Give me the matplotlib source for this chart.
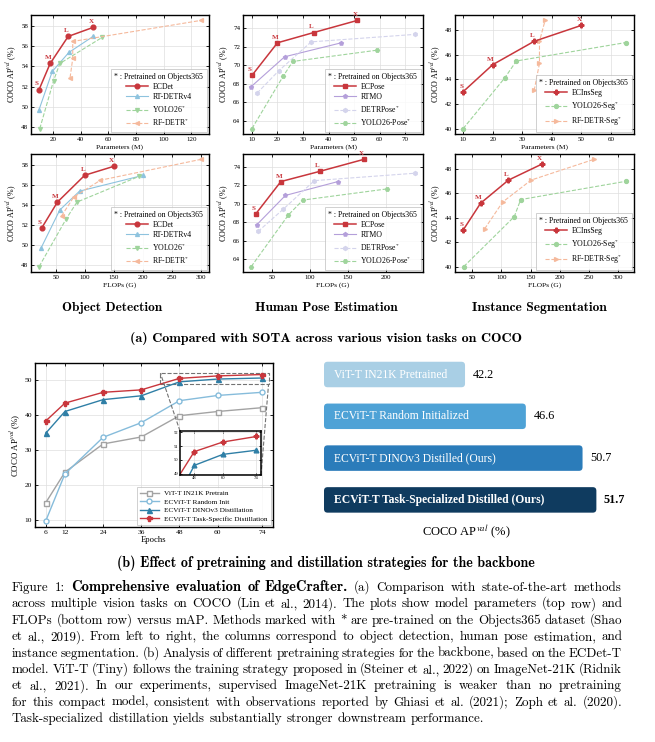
import numpy as np
import matplotlib
matplotlib.use('Agg')
import matplotlib.pyplot as plt
from matplotlib.patches import FancyBboxPatch
from mpl_toolkits.axes_grid1.inset_locator import mark_inset

plt.rcParams['font.family'] = ['Liberation Serif', 'DejaVu Serif']
plt.rcParams['mathtext.fontset'] = 'stix'

# %%
# Data
# --- object detection ---
od_names = ['ECDet', 'RT-DETRv4', 'YOLO26$^{*}$', 'RF-DETR$^{*}$']
od_params = [[10, 18, 31, 49], [10, 19.5, 31.5, 49], [10.5, 20.5, 25, 55.5], [32.4, 34.3, 34.3, 126.9]]
od_flops = [[26, 53, 100, 150], [25, 57, 91, 201], [21.4, 68, 86.6, 194], [60, 81, 127, 300]]
od_ap = [[51.7, 54.3, 57.0, 57.9], [49.7, 53.5, 55.4, 57.0], [47.8, 52.6, 54.3, 56.9], [52.9, 54.8, 56.5, 58.6]]

# --- human pose estimation ---
pose_names = ['ECPose', 'RTMO', 'DETRPose$^{*}$', 'YOLO26-Pose$^{*}$']
pose_params = [[10, 20, 34.2, 51.3], [9.7, 22.8, 45], [12, 20.5, 33.2, 73.8], [10, 22.2, 26, 58.8]]
pose_flops = [[29, 62, 113, 171], [30, 68, 137], [32, 65, 106, 238], [23, 72, 91, 201]]
pose_ap = [[68.9, 72.4, 73.5, 74.8], [67.7, 70.9, 72.4], [67.0, 69.4, 72.5, 73.3], [63.2, 68.8, 70.4, 71.6]]

# --- instance segmentation ---
seg_names = ['ECInsSeg', 'YOLO26-Seg$^{*}$', 'RF-DETR-Seg$^{*}$']
seg_params = [[10, 20, 34, 50], [10, 24, 28, 65], [34, 35.8, 35.8, 37.7]]
seg_flops = [[34, 64, 112, 169], [35, 122, 133, 314], [71, 102, 151, 259]]
seg_ap = [[43.0, 45.2, 47.1, 48.4], [40.0, 44.1, 45.5, 47.0], [43.1, 45.3, 47.1, 48.8]]

sizes = ['S', 'M', 'L', 'X']

# --- backbone pretraining curves ---
epochs = [6, 12, 24, 36, 48, 60, 74]
curve_names = ['ViT-T IN21K Pretrain', 'ECViT-T Random Init',
               'ECViT-T DINOv3 Distillation', 'ECViT-T Task-Specific Distillation']
curve_ap = [[15.0, 23.7, 31.8, 33.8, 39.9, 41.1, 42.2],
            [9.8, 23.2, 33.7, 37.9, 44.2, 45.7, 46.6],
            [34.9, 41.1, 44.5, 45.6, 49.6, 50.4, 50.7],
            [38.4, 43.5, 46.6, 47.3, 50.6, 51.3, 51.7]]

# --- final bars ---
bar_labels = ['ViT-T IN21K Pretrained', 'ECViT-T Random Initialized',
              'ECViT-T DINOv3 Distilled (Ours)', 'ECViT-T Task-Specialized Distilled (Ours)']
bar_values = [42.2, 46.6, 50.7, 51.7]

# %%
RED = '#c8363c'
BLUE_L = '#8ec3de'
GREEN = '#9fd49c'
ORANGE = '#f5b99c'
PURPLE = '#b49fda'
LAV = '#d4d4ec'

W, H = 655, 742
fig = plt.figure(figsize=(W / 100, H / 100), dpi=100)
renderer = fig.canvas.get_renderer()


def box(x0, y0, x1, y1):
    # axes placed in pixel coordinates of the page
    return fig.add_axes([x0 / W, 1 - y1 / H, (x1 - x0) / W, (y1 - y0) / H])


def style(ax, fs=5.0):
    ax.grid(True, color='#dedede', lw=0.5)
    ax.set_axisbelow(True)
    ax.tick_params(direction='in', top=True, right=True, length=2, width=0.6,
                   labelsize=fs, pad=2)
    for s in ax.spines.values():
        s.set_linewidth(1.0)


def panel(ax, names, xs, ys, styles, xlabel):
    style(ax)
    for i, (name, x, y, st) in enumerate(zip(names, xs, ys, styles)):
        color, marker, main = st
        solid = main or name in ('RTMO', 'RT-DETRv4')
        ax.plot(x, y, color=color, marker=marker, ls='-' if solid else '--',
                lw=1.1 if main else 0.8, ms=3.4 if main else 2.8, label=name, zorder=3 if main else 2)
        if main:
            for xx, yy, t in zip(x, y, sizes):
                ax.annotate(t, (xx, yy), xytext=(-1.5, 2.2), textcoords='offset points',
                            ha='center', va='bottom', color=color, fontsize=5, fontweight='bold')
    ax.set_xlabel(xlabel, fontsize=5.4, labelpad=1.5)
    ax.set_ylabel('COCO AP$^{val}$ (%)', fontsize=5.8, labelpad=2)
    leg = ax.legend(title='* : Pretrained on Objects365', loc='lower right', fontsize=5.6,
                    title_fontsize=5.6, fancybox=False, edgecolor='#bbbbbb',
                    handlelength=2.8, borderaxespad=0.3, borderpad=0.45, labelspacing=0.28,
                    handletextpad=0.6)
    leg.get_frame().set_linewidth(0.6)


od_styles = [(RED, 'o', True), (BLUE_L, '^', False), (GREEN, 'v', False), (ORANGE, '<', False)]
pose_styles = [(RED, 's', True), (PURPLE, 'p', False), (LAV, 'h', False), (GREEN, 'H', False)]
seg_styles = [(RED, 'P', True), (GREEN, 'o', False), (ORANGE, '>', False)]

cols = [(31, 209), (243, 423), (455, 634)]
rows = [(15, 134), (154, 272)]
panel(box(cols[0][0], rows[0][0], cols[0][1], rows[0][1]), od_names, od_params, od_ap, od_styles, 'Parameters (M)')
panel(box(cols[1][0], rows[0][0], cols[1][1], rows[0][1]), pose_names, pose_params, pose_ap, pose_styles, 'Parameters (M)')
panel(box(cols[2][0], rows[0][0], cols[2][1], rows[0][1]), seg_names, seg_params, seg_ap, seg_styles, 'Parameters (M)')
panel(box(cols[0][0], rows[1][0], cols[0][1], rows[1][1]), od_names, od_flops, od_ap, od_styles, 'FLOPs (G)')
panel(box(cols[1][0], rows[1][0], cols[1][1], rows[1][1]), pose_names, pose_flops, pose_ap, pose_styles, 'FLOPs (G)')
panel(box(cols[2][0], rows[1][0], cols[2][1], rows[1][1]), seg_names, seg_flops, seg_ap, seg_styles, 'FLOPs (G)')

# %%
# (b) left: training curves with zoomed inset
curve_styles = [('#a3a3a3', 's', 'white'), ('#86bcdb', 'o', 'white'),
                ('#2f7fa6', '^', '#2f7fa6'), (RED, 'P', RED)]
ax = box(35, 363, 273, 527)
style(ax, fs=5.4)
for name, y, (c, m, fc) in zip(curve_names, curve_ap, curve_styles):
    ax.plot(epochs, y, color=c, marker=m, mfc=fc, mec=c, ms=3.6, lw=1.0, label=name)
ax.set_xticks(epochs)
ax.set_ylim(8, 55)
ax.set_xlabel('Epochs', fontsize=6.2, labelpad=1)
ax.set_ylabel('COCO AP$^{val}$ (%)', fontsize=6.4, labelpad=2)
leg = ax.legend(loc='lower right', fontsize=5.2, fancybox=False, edgecolor='#bbbbbb',
                handlelength=2.6, borderaxespad=0.3, labelspacing=0.35)
leg.get_frame().set_linewidth(0.6)

axins = box(180, 431, 261, 475)
style(axins, fs=3.3)
axins.tick_params(pad=1, length=1.5)
for y, (c, m, fc) in list(zip(curve_ap, curve_styles))[2:]:
    axins.plot(epochs, y, color=c, marker=m, mfc=fc, mec=c, ms=3.4, lw=1.0)
axins.set_xlim(42, 76)
axins.set_ylim(48.9, 52.1)
axins.set_xticks([48, 60, 74])
axins.set_yticks([49, 50, 51, 52])
for s in axins.spines.values():
    s.set_linewidth(1.1)
mark_inset(ax, axins, loc1=2, loc2=4, fc='none', ec='0.45', ls='--', lw=0.8)

# (b) right: rounded bars
bar_colors = ['#a9cfe5', '#4ea2d6', '#2b7cba', '#0f3b5f']
bx0, by0, bx1, by1 = 324, 353.6, 642, 520.8
axb = box(bx0, by0, bx1, by1)
xmin, xmax = 32, 55
axb.set_xlim(xmin, xmax)
axb.set_ylim(3.5, -0.5)
axb.axis('off')
asp = (4 / (by1 - by0)) / ((xmax - xmin) / (bx1 - bx0))
for i, (lab, v, c) in enumerate(zip(bar_labels, bar_values, bar_colors)):
    bold = i == len(bar_values) - 1
    axb.add_patch(FancyBboxPatch((xmin, i - 0.305), v - xmin, 0.61,
                                 boxstyle='round,pad=0,rounding_size=0.26',
                                 mutation_aspect=asp, fc=c, ec='none'))
    axb.text(xmin + 0.72, i, lab, color='white', va='center', ha='left', fontsize=8.4,
             fontweight='bold' if bold else 'normal')
    axb.text(v + 0.55, i, f'{v:.1f}', color='black', va='center', ha='left', fontsize=8.8,
             fontweight='bold' if bold else 'normal')
fig.text(466 / W, 1 - 532 / H, 'COCO AP$^{val}$ (%)', ha='center', va='center', fontsize=9)


# %%
# captions in Computer Modern
def width(s, **kw):
    t = fig.text(0, 0, s, **kw)
    w = t.get_window_extent(renderer).width
    t.remove()
    return w


def centered(xc, yc, s, family, target_w):
    fs = 10 * target_w / width(s, family=family, fontsize=10)
    fig.text(xc / W, 1 - yc / H, s, family=family, fontsize=fs, ha='center', va='center')


centered(112, 308, 'Object Detection', 'cmb10', 100)
centered(326, 308, 'Human Pose Estimation', 'cmb10', 142)
centered(539, 308, 'Instance Segmentation', 'cmb10', 134)
centered(326, 338, '(a) Compared with SOTA across various vision tasks on COCO', 'cmb10', 393)
centered(326, 563, '(b) Effect of pretraining and distillation strategies for the backbone', 'cmb10', 418)

caption = [
    [('Figure 1:', 'cmr10'), ('Comprehensive evaluation of EdgeCrafter.', 'cmb10'),
     ('(a) Comparison with state-of-the-art methods', 'cmr10')],
    [('across multiple vision tasks on COCO (Lin et al., 2014). The plots show model parameters (top row) and', 'cmr10')],
    [('FLOPs (bottom row) versus mAP. Methods marked with * are pre-trained on the Objects365 dataset (Shao', 'cmr10')],
    [('et al., 2019). From left to right, the columns correspond to object detection, human pose estimation, and', 'cmr10')],
    [('instance segmentation. (b) Analysis of different pretraining strategies for the backbone, based on the ECDet-T', 'cmr10')],
    [('model. ViT-T (Tiny) follows the training strategy proposed in (Steiner et al., 2022) on ImageNet-21K (Ridnik', 'cmr10')],
    [('et al., 2021). In our experiments, supervised ImageNet-21K pretraining is weaker than no pretraining', 'cmr10')],
    [('for this compact model, consistent with observations reported by Ghiasi et al. (2021); Zoph et al. (2020).', 'cmr10')],
    [('Task-specialized distillation yields substantially stronger downstream performance.', 'cmr10')],
]
X0, X1 = 12, 622
BOLD_SCALE = 1.12  # cmb10 is narrower than LaTeX's bold extended face
lines = [[(w, f) for seg, f in line for w in seg.split()] for line in caption]


def word_size(f, size):
    return size * BOLD_SCALE if f == 'cmb10' else size


base = 10
space = width('a a', family='cmr10', fontsize=base) - width('aa', family='cmr10', fontsize=base)
natural = [sum(width(w, family=f, fontsize=word_size(f, base)) for w, f in ln) + space * (len(ln) - 1)
           for ln in lines[:-1]]
fs = base * (X1 - X0 - 6) / float(np.median(natural))
space *= fs / base
for k, ln in enumerate(lines):
    yb = 591 + 16.4 * k
    ws = [width(w, family=f, fontsize=word_size(f, fs)) for w, f in ln]
    gap = space if k == len(lines) - 1 else (X1 - X0 - sum(ws)) / (len(ws) - 1)
    x = X0
    for (w, f), wd in zip(ln, ws):
        fig.text(x / W, 1 - yb / H, w, family=f, fontsize=word_size(f, fs), ha='left', va='baseline')
        x += wd + gap

fig.savefig('out.png', dpi=100, facecolor='white')
